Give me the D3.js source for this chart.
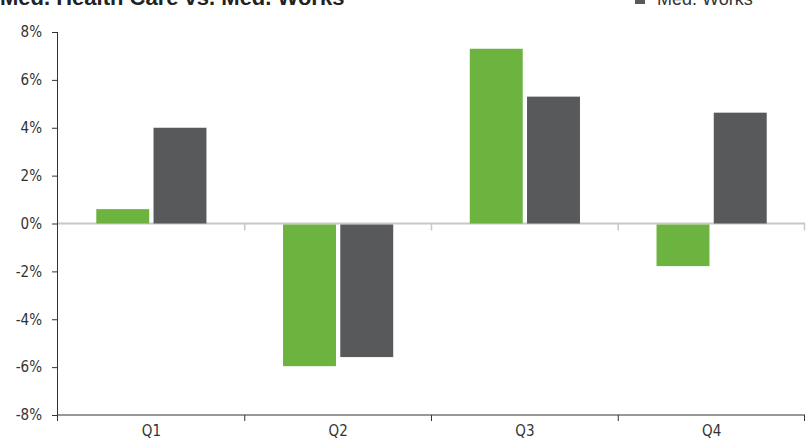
<!DOCTYPE html>
<html>
<head>
<meta charset="utf-8">
<script src="https://cdn.jsdelivr.net/npm/d3@7"></script>
<style>
  body { margin: 0; background: #fff; }
  text { font-family: "DejaVu Sans Condensed", "DejaVu Sans", sans-serif; fill: #333; }
  .title { font-family: "Liberation Sans", Arial, sans-serif; font-weight: bold; font-size: 22px; fill: #222; }
  .legend text { font-family: "Liberation Sans", Arial, sans-serif; font-size: 18px; fill: #333; }
</style>
</head>
<body>
<div id="plot"></div>
<script>
var quarters = ["Q1", "Q2", "Q3", "Q4"];
var seriesNames = ["Med. Health Care", "Med. Works"];
var healthCare = [0.6, -5.96, 7.3, -1.78];
var works = [4.0, -5.58, 5.3, 4.63];
var yTicks = [-8, -6, -4, -2, 0, 2, 4, 6, 8];

var margin = { top: 32, right: 1, bottom: 25, left: 58 };
var width = 806 - margin.left - margin.right;
var height = 440 - margin.top - margin.bottom;

var root = d3.select("div#plot")
  .append("svg")
    .attr("width", 806)
    .attr("height", 440);

var svg = root.append("g")
    .attr("transform", "translate(" + margin.left + "," + margin.top + ")");

var xscale = d3.scaleBand()
  .domain(quarters)
  .range([0, width]);

var inner = d3.scaleBand()
  .domain(seriesNames)
  .range([xscale.bandwidth() * 0.205, xscale.bandwidth() * 0.795])
  .paddingInner(0.075);

var yscale = d3.scaleLinear()
  .domain([-8, 8])
  .range([height, 0]);

var color = d3.scaleOrdinal()
  .domain(seriesNames)
  .range(["#6db33f", "#58595b"]);

var rows = quarters.map(function(q, i) {
  return { q: q, values: [healthCare[i], works[i]] };
});

// zero line with light ticks at band edges
svg.append("line")
  .attr("x1", 0).attr("x2", width)
  .attr("y1", yscale(0)).attr("y2", yscale(0))
  .attr("stroke", "#c8c8cc").attr("stroke-width", 2);

svg.selectAll("line.zt")
  .data(quarters.slice(1).concat(["end"]))
  .enter().append("line")
  .attr("class", "zt")
  .attr("x1", function(d) { return d == "end" ? width - 0.5 : xscale(d); })
  .attr("x2", function(d) { return d == "end" ? width - 0.5 : xscale(d); })
  .attr("y1", yscale(0)).attr("y2", yscale(0) + 7)
  .attr("stroke", "#c8c8cc").attr("stroke-width", 1.5);

// bars
var group = svg.selectAll("g.quarter")
  .data(rows)
  .enter().append("g")
  .attr("class", "quarter")
  .attr("transform", function(d) { return "translate(" + xscale(d.q) + ",0)"; });

group.selectAll("rect")
  .data(function(d) {
    return d.values.map(function(v, j) { return { name: seriesNames[j], v: v }; });
  })
  .enter().append("rect")
  .attr("x", function(d) { return inner(d.name); })
  .attr("width", inner.bandwidth())
  .attr("y", function(d) { return yscale(Math.max(0, d.v)) + (d.v < 0 ? 1 : 0); })
  .attr("height", function(d) { return Math.abs(yscale(d.v) - yscale(0)) - (d.v < 0 ? 1 : 0); })
  .style("fill", function(d) { return color(d.name); });

// y axis
var yAxis = d3.axisLeft(yscale)
  .tickValues(yTicks)
  .tickSize(6)
  .tickPadding(10)
  .tickFormat(function(d) { return d + "%"; });

var ya = svg.append("g").call(yAxis);
ya.select(".domain").remove();
ya.selectAll(".tick line").attr("stroke", "#333");
ya.selectAll(".tick text").style("font-size", "15px").attr("fill", "#333");
ya.append("line")
  .attr("x1", -0.5).attr("x2", -0.5)
  .attr("y1", 0).attr("y2", height + 6)
  .attr("stroke", "#333");

// x axis at bottom
var xa = svg.append("g")
  .attr("transform", "translate(0," + height + ")");
xa.append("line")
  .attr("x1", 0).attr("x2", width)
  .attr("stroke", "#333");
xa.selectAll("line.xt")
  .data(quarters.slice(1).concat(["end"]))
  .enter().append("line")
  .attr("class", "xt")
  .attr("x1", function(d) { return d == "end" ? width - 0.5 : xscale(d); })
  .attr("x2", function(d) { return d == "end" ? width - 0.5 : xscale(d); })
  .attr("y1", 0).attr("y2", 6)
  .attr("stroke", "#333");
xa.selectAll("text.xl")
  .data(quarters)
  .enter().append("text")
  .attr("class", "xl")
  .attr("x", function(d) { return xscale(d) + xscale.bandwidth() / 2; })
  .attr("y", 21)
  .attr("text-anchor", "middle")
  .style("font-size", "15px")
  .text(function(d) { return d; });

// title + legend (partly above the top edge, as in the source)
root.append("text")
  .attr("class", "title")
  .attr("x", 0)
  .attr("y", 5)
  .text(seriesNames[0] + " vs. " + seriesNames[1]);

var legend = root.append("g").attr("class", "legend");
legend.append("rect")
  .attr("x", 635).attr("y", -6)
  .attr("width", 10).attr("height", 10)
  .style("fill", color(seriesNames[1]));
legend.append("text")
  .attr("x", 657)
  .attr("y", 5)
  .text(seriesNames[1]);
</script>
</body>
</html>
